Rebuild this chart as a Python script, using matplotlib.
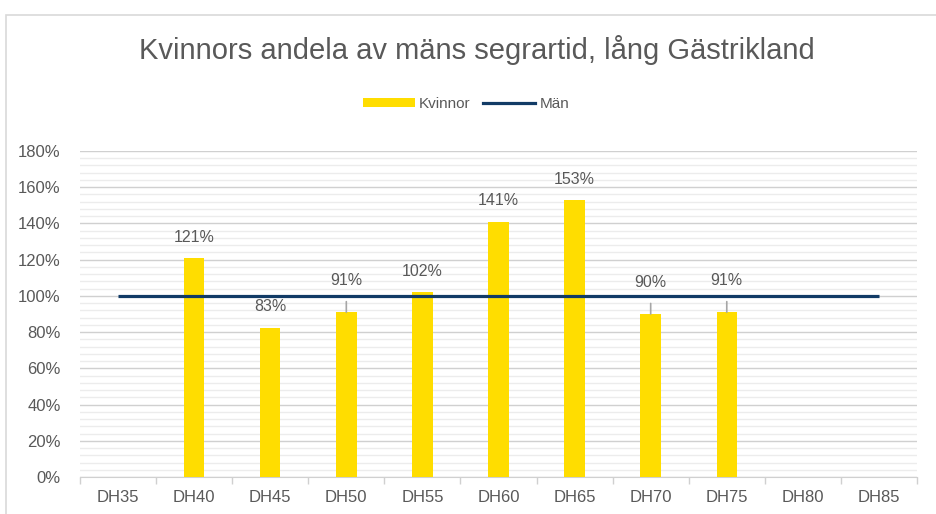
import numpy as np
import matplotlib
matplotlib.use("Agg")
import matplotlib.pyplot as plt
from matplotlib.ticker import MultipleLocator, PercentFormatter
from matplotlib.patches import Patch, Rectangle
from matplotlib.lines import Line2D

plt.rcParams['font.family'] = ['Liberation Sans', 'DejaVu Sans']

# data
klasser = ['DH35', 'DH40', 'DH45', 'DH50', 'DH55', 'DH60',
           'DH65', 'DH70', 'DH75', 'DH80', 'DH85']
kvinnor = [np.nan, 121, 82.5, 91, 102, 141, 153, 90, 91, np.nan, np.nan]
man = [100] * len(klasser)
etiketter = ['', '121%', '83%', '91%', '102%', '141%', '153%', '90%', '91%', '', '']

GUL = '#FFDD00'
BLA = '#123B66'
TEXT = '#595959'

fig = plt.figure(figsize=(9.36, 5.14), dpi=100)
ax = fig.add_axes([80 / 936, 37 / 514, (917 - 80) / 936, (477 - 151) / 514])

x = np.arange(len(klasser))
ax.bar(x, kvinnor, width=0.27, color=GUL, zorder=3)
ax.plot(x, man, color=BLA, lw=2.3, zorder=4, solid_capstyle='butt')

# dataetiketter, de som krockar med linjen flyttas upp med hävstreck
for xi, v, lab in zip(x, kvinnor, etiketter):
    if not lab:
        continue
    if 85 <= v < 100:
        ax.annotate(lab, (xi, v), xytext=(0, 23), textcoords='offset points',
                    ha='center', va='center', fontsize=11.5, color=TEXT,
                    arrowprops=dict(arrowstyle='-', color='#A6A6A6', lw=1.2,
                                    shrinkA=8, shrinkB=0), zorder=5)
    else:
        ax.annotate(lab, (xi, v), xytext=(0, 15), textcoords='offset points',
                    ha='center', va='center', fontsize=11.5, color=TEXT, zorder=5)

ax.set_xlim(-0.5, len(klasser) - 0.5)
ax.set_ylim(0, 180)
ax.yaxis.set_major_locator(MultipleLocator(20))
ax.yaxis.set_minor_locator(MultipleLocator(4))
ax.yaxis.set_major_formatter(PercentFormatter(decimals=0))
ax.grid(axis='y', which='major', color='#D0D0D0', lw=1.0, zorder=0)
ax.grid(axis='y', which='minor', color='#ECECEC', lw=1.0, zorder=0)

ax.set_xticks(x)
ax.set_xticklabels(klasser)
ax.set_xticks(np.arange(len(klasser) + 1) - 0.5, minor=True)
ax.tick_params(axis='x', which='major', length=0, pad=9, labelsize=12, labelcolor=TEXT)
ax.tick_params(axis='x', which='minor', length=5, color='#D0D0D0', width=1)
ax.tick_params(axis='y', which='both', length=0, pad=14, labelsize=12, labelcolor=TEXT)

for s in ['top', 'right', 'left']:
    ax.spines[s].set_visible(False)
ax.spines['bottom'].set_color('#D0D0D0')

fig.text(477 / 936, 1 - 50 / 514, 'Kvinnors andela av mäns segrartid, lång Gästrikland',
         ha='center', va='center', fontsize=21, color=TEXT)

handles = [Patch(facecolor=GUL, edgecolor='none', label='Kvinnor'),
           Line2D([], [], color=BLA, lw=2.3, label='Män')]
fig.legend(handles=handles, loc='center', bbox_to_anchor=(466 / 936, 1 - 104 / 514),
           ncol=2, frameon=False, fontsize=11, labelcolor=TEXT,
           handlelength=3.4, handleheight=0.6, handletextpad=0.3, columnspacing=0.8)

# ram runt diagrammet
fig.patches.append(Rectangle((6 / 936, -0.1), 2, 1.1 - 15 / 514, transform=fig.transFigure,
                             fill=False, edgecolor='#D9D9D9', lw=1.2, zorder=0))

fig.savefig('out.png', dpi=100)
